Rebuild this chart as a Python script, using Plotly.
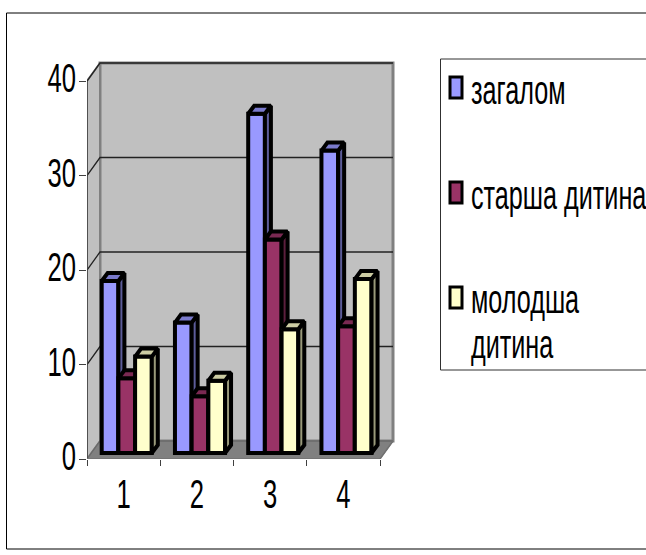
import plotly.graph_objects as go

categories = [1, 2, 3, 4]
series_names = ["загалом", "старша дитина", "молодша<br>дитина"]
zagalom = [18.2, 13.8, 35.9, 32.0]
starsha = [7.9, 6.0, 22.6, 13.4]
molodsha = [10.2, 7.65, 13.1, 18.4]
y_ticks = [0, 10, 20, 30, 40]

FONT = "Liberation Sans"
W, H = 646, 555
L, R, T, B = 87, 396, 58, 459       # plot rectangle in pixels
PXX, PXY = 73.25, 9.45              # pixels per category / per value unit
XMIN = 0.5
x_range = [XMIN, XMIN + (R - L) / PXX]
y_range = [0, (B - T) / PXY]

def dx(px): return px / PXX
def dy(px): return px / PXY
def paper_x(px): return (px - L) / (R - L)
def paper_y(px): return (B - px) / (B - T)

WALL_DX, WALL_DY = dx(13), dy(18)
BAR_DX, BAR_DY = dx(6), dy(8)
BAR_OFFSET, BAR_BASE = dx(14.7), dy(6)
BAR_W = dx(16.7)
X_END = XMIN + len(categories)
EDGE = 4

fig = go.Figure()

def poly(xs, ys, fill=None, line="#808080", width=1, axis=("x", "y")):
    fig.add_trace(go.Scatter(
        x=xs, y=ys, mode="lines", showlegend=False, hoverinfo="skip",
        fill="toself" if fill else None, fillcolor=fill,
        line=dict(color=line, width=width), xaxis=axis[0], yaxis=axis[1]))

top = max(y_ticks)
# back wall, side wall, floor
poly([XMIN + WALL_DX, X_END + WALL_DX, X_END + WALL_DX, XMIN + WALL_DX, XMIN + WALL_DX],
     [WALL_DY, WALL_DY, top + WALL_DY, top + WALL_DY, WALL_DY], "#c0c0c0", "#808080", 3)
poly([XMIN, XMIN + WALL_DX, XMIN + WALL_DX, XMIN, XMIN],
     [0, WALL_DY, top + WALL_DY, top, 0], "#c0c0c0", "#808080", 2)
poly([XMIN, X_END, X_END + WALL_DX, XMIN + WALL_DX, XMIN],
     [0, 0, WALL_DY, WALL_DY, 0], "#808080", "#808080", 1)
# gridlines on back and side walls
for t in y_ticks:
    poly([XMIN, XMIN + WALL_DX, X_END + WALL_DX], [t, t + WALL_DY, t + WALL_DY],
         None, "#222222" if t else "#6a6a6a", 1.3)
# front edges
poly([XMIN, XMIN], [0, top], None, "#404040", 1.5)
poly([XMIN, X_END, X_END + WALL_DX], [0, 0, WALL_DY], None, "#707070", 1.5)

series = [
    (zagalom, "#9999FF", "#5C5C99", "#7A7ACC", "x2", "y2"),
    (starsha, "#993366", "#5C1F3D", "#7A2952", "x3", "y3"),
    (molodsha, "#FFFFCC", "#99997A", "#CCCCA3", "x4", "y4"),
]
for i, (vals, front, side, cap, xa, ya) in enumerate(series):
    lefts = [c - 0.5 + BAR_OFFSET + i * BAR_W for c in categories]
    fig.add_trace(go.Bar(
        x=[l + BAR_W / 2 for l in lefts], y=vals, base=BAR_BASE, width=BAR_W,
        name=series_names[i], showlegend=False, hoverinfo="skip",
        marker=dict(color=front, line=dict(color="black", width=EDGE)),
        xaxis=xa, yaxis=ya))
    sx, sy, tx, ty = [], [], [], []
    for l, v in zip(lefts, vals):
        r = l + BAR_W
        t = BAR_BASE + v
        sx += [r, r + BAR_DX, r + BAR_DX, r, r, None]
        sy += [BAR_BASE, BAR_BASE + BAR_DY, t + BAR_DY, t, BAR_BASE, None]
        tx += [l, l + BAR_DX, r + BAR_DX, r, l, None]
        ty += [t, t + BAR_DY, t + BAR_DY, t, t, None]
    poly(sx, sy, side, "black", EDGE, (xa, ya))
    poly(tx, ty, cap, "black", EDGE, (xa, ya))

layout = dict(
    width=W, height=H, autosize=False,
    margin=dict(l=L, r=W - R, t=T, b=H - B, pad=0),
    paper_bgcolor="white", plot_bgcolor="rgba(0,0,0,0)",
    barmode="overlay", showlegend=False,
    font=dict(family=FONT, color="black"),
)
layout["xaxis"] = dict(
    range=x_range, showgrid=False, zeroline=False, showline=False,
    tickmode="array", tickvals=[XMIN + i for i in range(len(categories) + 1)],
    ticktext=[""] * (len(categories) + 1), ticks="outside", ticklen=6, tickwidth=1, tickcolor="#404040",
)
layout["yaxis"] = dict(
    range=y_range, showgrid=False, zeroline=False, showline=False,
    tickmode="array", tickvals=y_ticks, ticktext=[str(t) for t in y_ticks],
    ticks="outside", ticklen=7, tickwidth=1, tickcolor="#404040",
    tickfont=dict(size=40, family=FONT),
)
for n in (2, 3, 4):
    layout[f"xaxis{n}"] = dict(range=x_range, overlaying="x", visible=False)
    layout[f"yaxis{n}"] = dict(range=y_range, overlaying="y", visible=False)
# category labels sit on their own overlay axis
layout["xaxis5"] = dict(
    range=x_range, overlaying="x", showgrid=False, zeroline=False, showline=False,
    side="bottom", tickmode="array", tickvals=categories, ticktext=[str(c) for c in categories],
    ticks="", tickfont=dict(size=40, family=FONT),
)
fig.update_layout(**layout)
fig.add_trace(go.Scatter(x=[None], y=[None], xaxis="x5", yaxis="y", showlegend=False, hoverinfo="skip"))

# outer chart frame and legend box
shapes = [
    dict(type="rect", xref="paper", yref="paper", x0=paper_x(6.5), x1=paper_x(660), y0=paper_y(13), y1=paper_y(549),
         line=dict(color="black", width=1), layer="below"),
    dict(type="rect", xref="paper", yref="paper", x0=paper_x(440.5), x1=paper_x(660), y0=paper_y(59), y1=paper_y(370),
         line=dict(color="#303030", width=1)),
]
legend_swatch_top = [75, 180, 285]
legend_colors = [s[1] for s in series]
annotations = []
legend_text_y = [[90], [195], [299, 344]]
for name, y0, c, tys in zip(series_names, legend_swatch_top, legend_colors, legend_text_y):
    shapes.append(dict(type="rect", xref="paper", yref="paper", x0=paper_x(450), x1=paper_x(462),
                       y0=paper_y(y0 + 2), y1=paper_y(y0 + 23), fillcolor=c, line=dict(color="black", width=3)))
    for part, ty in zip(name.split("<br>"), tys):
        annotations.append(dict(xref="paper", yref="paper", x=paper_x(469), y=paper_y(ty), text=part, showarrow=False,
                                xanchor="left", yanchor="middle", align="left",
                                font=dict(size=40, family=FONT, color="black")))
fig.update_layout(shapes=shapes, annotations=annotations)

# the reference uses a horizontally condensed face: squeeze the real text about its anchor
post = """
document.body.style.margin = '0';
document.querySelectorAll('.ytick text, .x5tick text, .annotation-text').forEach(function (el) {
    var x = parseFloat(el.getAttribute('x')) || 0;
    var ann = el.classList.contains('annotation-text');
    var s = ann ? 0.63 : 0.64;
    var isY = !!el.closest('.ytick');
    var up = isY ? -3 : (el.closest('.x5tick') ? 8 : 0);
    var right = isY ? 5 : 0;
    var t = el.getAttribute('transform') || '';
    el.setAttribute('transform', t + ' translate(' + (x + right) + ',' + up + ') scale(' + s + ',1) translate(' + (-x) + ',0)');
});
"""
fig.write_html("out.html", post_script=post, config={"displayModeBar": False})
